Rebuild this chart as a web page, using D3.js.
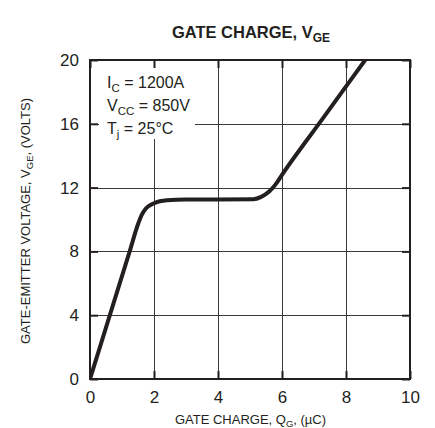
<!DOCTYPE html>
<html>
<head>
<meta charset="utf-8">
<script src="https://cdn.jsdelivr.net/npm/d3@7"></script>
<style>
  body { margin: 0; background: #fff; }
  svg { display: block; font-family: "Liberation Sans", Arial, Helvetica, sans-serif; }
  .grid line { stroke: #3a3a3a; stroke-width: 1; shape-rendering: crispEdges; }
  .grid path { display: none; }
  .axis path { display: none; }
  .axis line { stroke: #231f20; stroke-width: 2; }
  .axis text { fill: #231f20; font-size: 17px; font-family: "Liberation Sans", Arial, Helvetica, sans-serif; }
</style>
</head>
<body>
<script>
/********************************************************/
// values
const qG = [0, 0.62, 1.24, 1.5, 1.62, 1.76, 2.0, 2.4, 3.0, 4.0, 5.1, 5.35, 5.6, 5.8, 6.0, 7.3, 8.6];
const vGE = [0, 4, 8, 9.7, 10.3, 10.72, 11.02, 11.2, 11.25, 11.25, 11.27, 11.42, 11.75, 12.2, 12.8, 16.4, 20];

const xTicks = [0, 2, 4, 6, 8, 10];
const yTicks = [0, 4, 8, 12, 16, 20];

const conditions = [
  { main: "I", sub: "C", rest: " = 1200A" },
  { main: "V", sub: "CC", rest: " = 850V" },
  { main: "T", sub: "j", rest: " = 25°C" },
];

/********************************************************/
const svgWidth = 435;
const svgHeight = 428;

const chartMargin = { top: 60, right: 25, bottom: 49, left: 90 };
const chartWidth = svgWidth - chartMargin.left - chartMargin.right;   // 320
const chartHeight = svgHeight - chartMargin.top - chartMargin.bottom; // 319

const ink = "#231f20";

const svg = d3.select("body")
  .append("svg")
  .attr("width", svgWidth)
  .attr("height", svgHeight);

const chartGroup = svg.append("g")
  .attr("transform", `translate(${chartMargin.left}, ${chartMargin.top})`);

/************** scales ************/
const xScale = d3.scaleLinear().domain([0, 10]).range([0, chartWidth]);
const yScale = d3.scaleLinear().domain([0, 20]).range([chartHeight, 0]);

/************** grid ************/
chartGroup.append("g")
  .classed("grid", true)
  .attr("transform", `translate(0, ${chartHeight})`)
  .call(d3.axisBottom(xScale).tickValues(xTicks.slice(1, -1)).tickSize(-chartHeight).tickFormat(""));

chartGroup.append("g")
  .classed("grid", true)
  .call(d3.axisLeft(yScale).tickValues(yTicks.slice(1, -1)).tickSize(-chartWidth).tickFormat(""));

/************** white box behind the test conditions ************/
chartGroup.append("rect")
  .attr("x", 9)
  .attr("y", 8)
  .attr("width", 96)
  .attr("height", 71)
  .attr("fill", "#fff");

const note = chartGroup.append("g");
conditions.forEach((c, i) => {
  const t = note.append("text")
    .attr("x", 17)
    .attr("y", 27.5 + i * 23)
    .attr("font-size", "16px")
    .attr("fill", ink);
  t.append("tspan").text(c.main);
  t.append("tspan").attr("dy", 4).attr("font-size", "11.5px").text(c.sub);
  t.append("tspan").attr("dy", -4).text(c.rest);
});

/************** inward ticks + labels ************/
chartGroup.append("g")
  .classed("axis", true)
  .attr("transform", `translate(0, ${chartHeight})`)
  .call(d3.axisBottom(xScale).tickValues(xTicks).tickSizeInner(-8).tickSizeOuter(0).tickPadding(11.5));

chartGroup.append("g")
  .classed("axis", true)
  .call(d3.axisLeft(yScale).tickValues(yTicks).tickSizeInner(-8).tickSizeOuter(0).tickPadding(11));

chartGroup.append("g")
  .classed("axis", true)
  .call(d3.axisTop(xScale).tickValues(xTicks).tickSizeInner(-8).tickSizeOuter(0).tickFormat(""));

chartGroup.append("g")
  .classed("axis", true)
  .attr("transform", `translate(${chartWidth}, 0)`)
  .call(d3.axisRight(yScale).tickValues(yTicks).tickSizeInner(-8).tickSizeOuter(0).tickFormat(""));

/************** curve ************/
const data = qG.map((q, i) => ({ q: q, v: vGE[i] }));

svg.append("clipPath")
  .attr("id", "plotClip")
  .append("rect")
  .attr("width", chartWidth)
  .attr("height", chartHeight);

const chargeLine = d3.line()
  .x((d) => xScale(d.q))
  .y((d) => yScale(d.v))
  .curve(d3.curveMonotoneX);

chartGroup.append("path")
  .attr("d", chargeLine(data))
  .attr("clip-path", "url(#plotClip)")
  .attr("fill", "none")
  .attr("stroke", ink)
  .attr("stroke-width", 4)
  .attr("stroke-linejoin", "round");

/************** frame ************/
chartGroup.append("rect")
  .attr("width", chartWidth)
  .attr("height", chartHeight)
  .attr("fill", "none")
  .attr("stroke", ink)
  .attr("stroke-width", 2);

/************** titles ************/
const title = svg.append("text")
  .attr("x", 251)
  .attr("y", 38)
  .attr("text-anchor", "middle")
  .attr("font-size", "16.5px")
  .attr("font-weight", "bold")
  .attr("fill", ink);
title.append("tspan").text("GATE CHARGE, V");
title.append("tspan").attr("dy", 4).attr("font-size", "12px").text("GE");

const xLabel = svg.append("text")
  .attr("x", 250.5)
  .attr("y", 424)
  .attr("text-anchor", "middle")
  .attr("font-size", "13px")
  .attr("fill", ink);
xLabel.append("tspan").text("GATE CHARGE, Q");
xLabel.append("tspan").attr("dy", 3).attr("font-size", "9.5px").text("G");
xLabel.append("tspan").attr("dy", -3).text(", (µC)");

const yLabel = svg.append("text")
  .attr("transform", "translate(29.5, 221) rotate(-90)")
  .attr("text-anchor", "middle")
  .attr("font-size", "13px")
  .attr("fill", ink);
yLabel.append("tspan").text("GATE-EMITTER VOLTAGE, V");
yLabel.append("tspan").attr("dy", 3).attr("font-size", "9.5px").text("GE");
yLabel.append("tspan").attr("dy", -3).text(", (VOLTS)");
</script>
</body>
</html>
